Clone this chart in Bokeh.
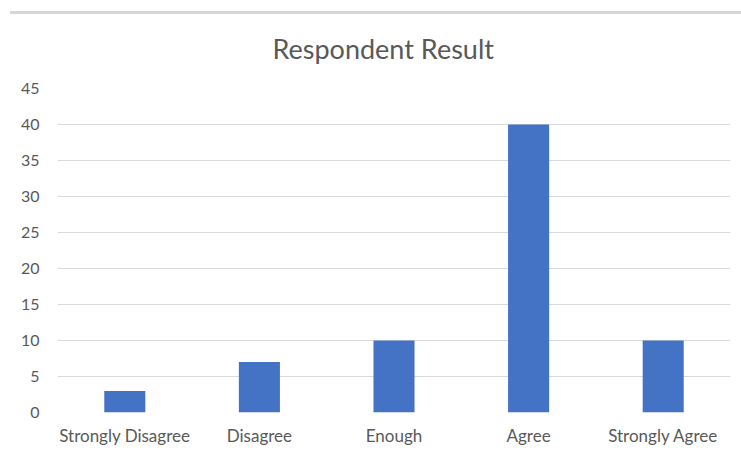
from bokeh.plotting import figure
from bokeh.models import Div, ColumnDataSource, FactorRange, Range1d, FixedTicker
from bokeh.layouts import column
from bokeh.embed import file_html
from bokeh.resources import INLINE

categories = ["Strongly Disagree", "Disagree", "Enough", "Agree", "Strongly Agree"]
values = [3, 7, 10, 40, 10]
y_ticks = [0, 5, 10, 15, 20, 25, 30, 35, 40, 45]

FONT = "Lato"
TXT = "#595959"

src = ColumnDataSource(dict(cat=categories, val=values))

p = figure(x_range=FactorRange(*categories), y_range=Range1d(0, 45),
           width=733, height=452, output_backend="svg", toolbar_location=None,
           title="Respondent Result")
p.min_border_left = 57
p.min_border_right = 3
p.min_border_top = 88
p.min_border_bottom = 40
p.outline_line_color = None
p.background_fill_color = "white"
p.border_fill_color = None

p.vbar(x="cat", top="val", width=0.305, source=src, fill_color="#4472C4", line_color=None)

p.title.text_font = FONT
p.title.text_font_size = "27px"
p.title.text_font_style = "normal"
p.title.text_color = TXT
p.title.align = "left"
p.title.offset = 215
p.title.standoff = 47

p.xgrid.grid_line_color = None
p.ygrid.grid_line_color = "#d9d9d9"
p.ygrid.grid_line_width = 1
p.yaxis.ticker = FixedTicker(ticks=y_ticks)

for ax in (p.xaxis, p.yaxis):
    ax.axis_line_color = None
    ax.major_tick_line_color = None
    ax.minor_tick_line_color = None
    ax.major_label_text_font = FONT
    ax.major_label_text_color = TXT
p.xaxis.major_label_text_font_size = "17px"
p.yaxis.major_label_text_font_size = "16px"
p.yaxis.major_label_standoff = 12
p.xaxis.major_label_standoff = 6

top_line = Div(text="", width=731, height=3,
               styles={"background-color": "#d6d6d6", "margin-top": "11px",
                       "margin-left": "10px", "margin-bottom": "-14px"})

layout = column(top_line, p, spacing=0)
open("out.html", "w").write(file_html(layout, INLINE))
